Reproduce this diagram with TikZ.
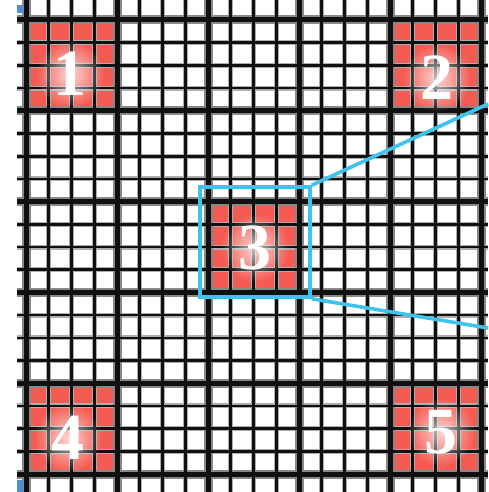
\documentclass[tikz,border=0pt]{standalone}
\usepackage{fontspec}
\setmainfont{Liberation Serif}
\newfontfamily\negrito{Liberation Serif Bold}
\usetikzlibrary{fadings}
\definecolor{grline}{HTML}{101010}
\definecolor{grblur}{HTML}{6A6A6A}
\definecolor{grred}{HTML}{F45B52}
\definecolor{grblue}{HTML}{3EC3EE}
\definecolor{grcanto}{HTML}{4A90D9}
\tikzfading[name=halo, inner color=transparent!0, outer color=transparent!100]
\tikzset{
  fino/.style={draw=grline,line width=2.6pt},
  finoblur/.style={draw=grblur!55,line width=5pt},
  grosso/.style={draw=grline,line width=5pt},
  grossoblur/.style={draw=grblur!80,line width=9pt},
  campo/.style={fill=grred},
  brilho/.style={fill=white,path fading=halo,fill opacity=0.75},
  numero/.style={text=white,font=\negrito\fontsize{66}{66}\selectfont,inner sep=0pt},
  caixa/.style={draw=grblue,line width=3.6pt,minimum width=110pt,minimum height=110pt,inner sep=0pt},
  raio/.style={draw=grblue,line width=3.6pt},
}

\begin{document}
\begin{tikzpicture}[x=1pt,y=-1pt]
  \useasboundingbox (0,0) rectangle (488,492);
  \begin{scope}
    \clip (17,0) rectangle (488,492);
    % quadrados de contagem
    \foreach \c/\r in {0/0,4/0,2/2,0/4,4/4}
      \fill[campo] ({26+91*\c},{20+90.8*\r}) rectangle ++(91,90.8);
    % grelha (borrão por baixo)
    \foreach \k in {-1,...,21} {
      \draw[finoblur] ({26+22.75*\k},0) -- ++(0,492);
      \draw[finoblur] (0,{20+22.7*\k}) -- ++(488,0);}
    \foreach \k in {0,4,...,20} {
      \draw[grossoblur] ({26+22.75*\k},0) -- ++(0,492);
      \draw[grossoblur] (0,{20+22.7*\k}) -- ++(488,0);}
    \foreach \k in {-1,...,21} {
      \draw[fino] ({26+22.75*\k},0) -- ++(0,492);
      \draw[fino] (0,{20+22.7*\k}) -- ++(488,0);}
    \foreach \k in {0,4,...,20} {
      \draw[grosso] ({26+22.75*\k},0) -- ++(0,492);
      \draw[grosso] (0,{20+22.7*\k}) -- ++(488,0);}
  \end{scope}
  \fill[grcanto] (17,5) rectangle (23,13);
  \fill[grcanto] (17,480) rectangle (23,492);
  % numeros com brilho
  \foreach \n/\x/\y in {1/70/74,2/437/78,3/255/248,4/68/438,5/441/432} {
    \coordinate (c\n) at (\x,\y);
    \fill[brilho] (c\n) circle (34);
    \node[numero] (n\n) at (c\n) {\n};}
  % ampliacao
  \node[caixa] (lupa) at (255,242) {};
  \coordinate (r1) at (488,104);
  \coordinate (r2) at (488,328);
  \draw[raio] (lupa.north east) -- (r1);
  \draw[raio] (lupa.south east) -- (r2);
\end{tikzpicture}
\end{document}
